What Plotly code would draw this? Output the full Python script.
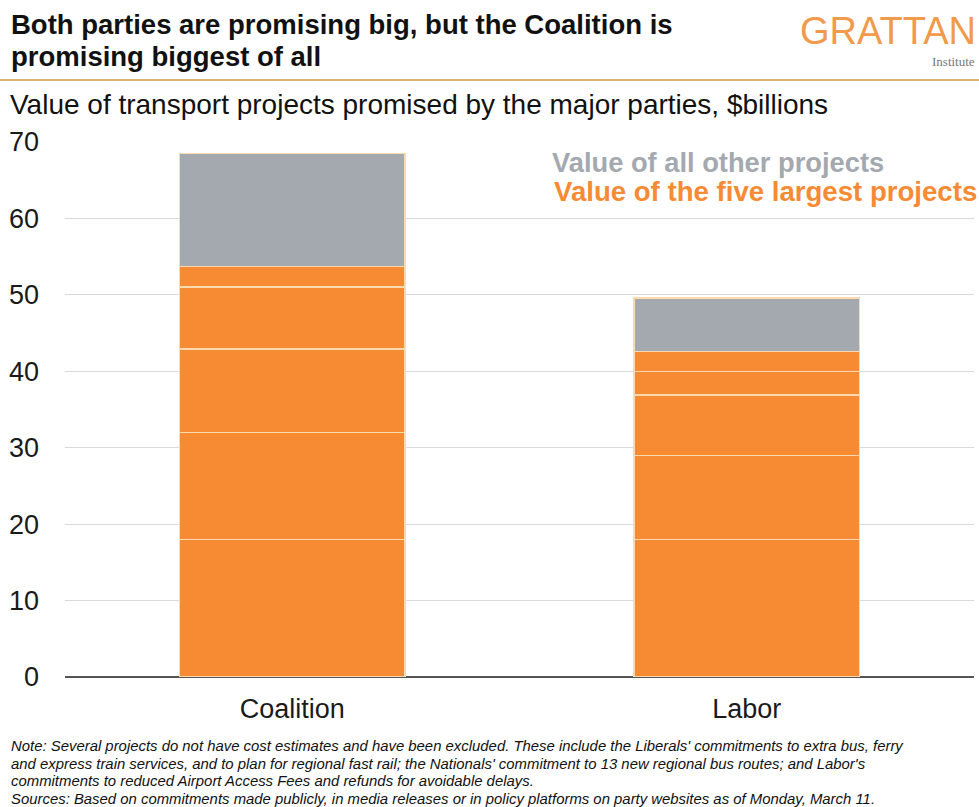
import plotly.graph_objects as go

categories = ["Coalition", "Labor"]
# Five largest projects, stacked from bottom (largest) upward, $billions
largest_1 = [18.0, 18.0]
largest_2 = [14.0, 11.0]
largest_3 = [10.9, 7.9]
largest_4 = [8.1, 3.1]
largest_5 = [2.7, 2.6]
all_other = [14.8, 7.0]
y_ticks = [0, 10, 20, 30, 40, 50, 60, 70]

note_lines = [
    "Note: Several projects do not have cost estimates and have been excluded. These include the Liberals' commitments to extra bus, ferry",
    "and express train services, and to plan for regional fast rail; the Nationals' commitment to 13 new regional bus routes; and Labor's",
    "commitments to reduced Airport Access Fees and refunds for avoidable delays.",
    "Sources: Based on commitments made publicly, in media releases or in policy platforms on party websites as of Monday, March 11.",
]

ORANGE = "#F68B33"
GREY = "#A4A9AF"
SEP = "#FDD9AE"

W, H = 979, 807
L, R, T, B = 65, 5, 142, 130
PW = W - L - R
PH = H - T - B


def px(x):
    return (x - L) / PW


def py(y):
    return (H - B - y) / PH


fig = go.Figure()
for vals in [largest_1, largest_2, largest_3, largest_4, largest_5]:
    fig.add_trace(go.Bar(x=categories, y=vals, marker=dict(color=ORANGE, line=dict(color=SEP, width=1.5)),
                         hoverinfo="y", showlegend=False))
fig.add_trace(go.Bar(x=categories, y=all_other, marker=dict(color=GREY, line=dict(color=SEP, width=1.5)),
                     hoverinfo="y", showlegend=False))

font_main = "Liberation Sans, Arial, Helvetica, sans-serif"

fig.update_layout(
    width=W, height=H,
    margin=dict(l=L, r=R, t=T, b=B, pad=0),
    barmode="stack",
    bargap=0.503,
    plot_bgcolor="white",
    paper_bgcolor="white",
    font=dict(family=font_main, color="#1a1a1a"),
    xaxis=dict(range=[-0.5, 1.5], showgrid=False, showline=False, ticks="",
               tickfont=dict(size=27, color="#1a1a1a"), ticklabelstandoff=13, zeroline=False),
    yaxis=dict(range=[0, 70], tickvals=y_ticks, showgrid=True, gridcolor="#D9D9D9", gridwidth=1,
               zeroline=True, zerolinecolor="#555555", zerolinewidth=1.5, showline=False, ticks="",
               tickfont=dict(size=27, color="#1a1a1a"), ticklabelstandoff=25),
)

ann = [
    dict(text="<b>Both parties are promising big, but the Coalition is</b>",
         x=px(9), y=py(24), xanchor="left", yanchor="middle",
         font=dict(size=27.5, color="#111111")),
    dict(text="<b>promising biggest of all</b>",
         x=px(9), y=py(56), xanchor="left", yanchor="middle",
         font=dict(size=27.5, color="#111111")),
    dict(text="Value of transport projects promised by the major parties, $billions",
         x=px(8), y=py(104), xanchor="left", yanchor="middle",
         font=dict(size=28, color="#111111")),
    dict(text="GRATTAN", x=px(978), y=py(31), xanchor="right", yanchor="middle",
         font=dict(size=38, color="#F29A4C")),
    dict(text="Institute", x=px(977), y=py(62), xanchor="right", yanchor="middle",
         font=dict(size=13, color="#777777", family="Liberation Serif, DejaVu Serif, serif")),
    dict(text="<b>Value of all other projects</b>", x=px(550), y=py(162), xanchor="left", yanchor="middle",
         font=dict(size=27.3, color="#A4A9AF")),
    dict(text="<b>Value of the five largest projects</b>", x=px(552), y=py(191), xanchor="left", yanchor="middle",
         font=dict(size=27.6, color=ORANGE)),
]
for i, line in enumerate(note_lines):
    ann.append(dict(text="<i>" + line + "</i>", x=px(9), y=py(746 + 17.5 * i), xanchor="left", yanchor="middle",
                    font=dict(size=14.9, color="#111111")))
for a in ann:
    a.update(xref="paper", yref="paper", showarrow=False)
fig.update_layout(annotations=ann)

fig.add_shape(type="line", xref="paper", yref="paper", x0=px(0), x1=px(979), y0=py(80), y1=py(80),
              line=dict(color="#D9B77C", width=2))

fig.write_html("out.html")
